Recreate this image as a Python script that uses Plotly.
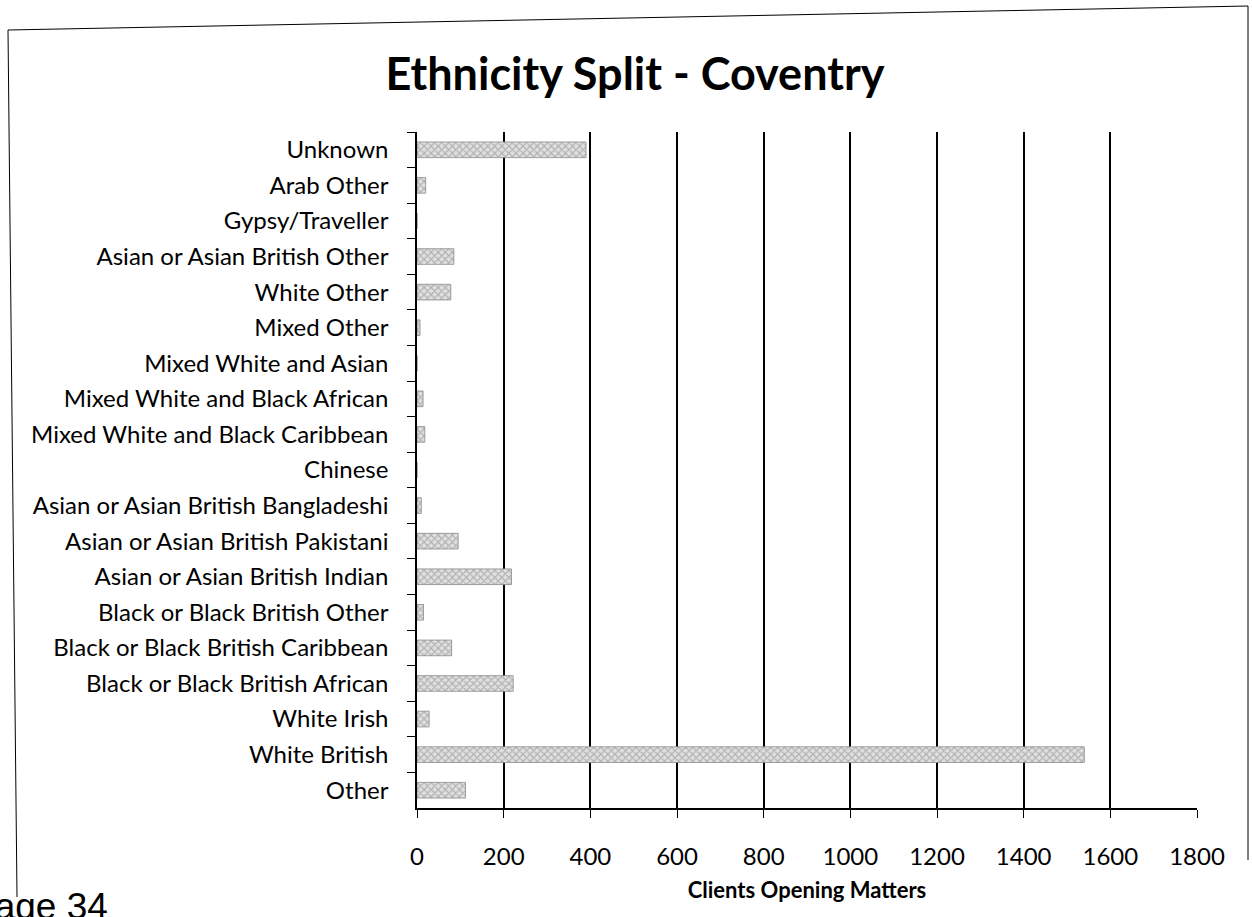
import plotly.graph_objects as go

# Categories listed top to bottom as in the chart
categories = [
    "Unknown", "Arab Other", "Gypsy/Traveller", "Asian or Asian British Other",
    "White Other", "Mixed Other", "Mixed White and Asian",
    "Mixed White and Black African", "Mixed White and Black Caribbean", "Chinese",
    "Asian or Asian British Bangladeshi", "Asian or Asian British Pakistani",
    "Asian or Asian British Indian", "Black or Black British Other",
    "Black or Black British Caribbean", "Black or Black British African",
    "White Irish", "White British", "Other",
]
clients = [390, 20, 0, 85, 78, 7, 0, 14, 18, 0, 10, 95, 218, 15, 80, 222, 28, 1540, 112]
x_ticks = [0, 200, 400, 600, 800, 1000, 1200, 1400, 1600, 1800]

W, H = 1252, 917
ML, MR, MT, MB = 417, 55, 132, 109
PW, PH = W - ML - MR, H - MT - MB

def px(x):
    return (x - ML) / PW

def py(y):
    return 1 - (y - MT) / PH

fig = go.Figure(go.Bar(
    x=clients, y=categories, orientation="h",
    marker=dict(color="#cfcfcf",
                pattern=dict(shape="x", size=5, solidity=0.4, fgcolor="#7f7f7f", bgcolor="#e0e0e0"),
                line=dict(color="#8a8a8a", width=0.8)),
    width=0.44,
))

font = "Lato, 'Open Sans', sans-serif"
fig.update_layout(
    width=W, height=H,
    margin=dict(l=ML, r=MR, t=MT, b=MB),
    paper_bgcolor="white", plot_bgcolor="white",
    showlegend=False,
    title=dict(text="<b>Ethnicity Split - Coventry</b>", x=635 / W, xref="container",
               xanchor="center", y=1 - 74 / H, yanchor="middle",
               font=dict(family=font, size=45, color="black")),
    xaxis=dict(range=[0, 1800], tickvals=x_ticks, ticktext=[str(v) for v in x_ticks],
               showgrid=True, gridcolor="black", gridwidth=1.5,
               showline=True, linecolor="black", linewidth=1.5,
               ticks="outside", ticklen=8, tickcolor="black",
               ticklabelstandoff=18,
               tickfont=dict(family=font, size=24, color="black"),
               zeroline=False,
               title=dict(text="<b>Clients Opening Matters</b>", standoff=14,
                          font=dict(family=font, size=22, color="black"))),
    yaxis=dict(autorange="reversed", showgrid=False,
               showline=True, linecolor="black", linewidth=1.5,
               ticks="outside", ticklen=8, tickcolor="black", tickson="boundaries",
               ticklabelstandoff=22,
               tickfont=dict(family=font, size=24, color="black")),
)

# scanned page border lines (decoration)
fig.add_shape(type="line", xref="paper", yref="paper",
              x0=px(8), y0=py(30), x1=px(1248), y1=py(6),
              line=dict(color="black", width=1))
fig.add_shape(type="line", xref="paper", yref="paper",
              x0=px(8), y0=py(30), x1=px(17), y1=py(897),
              line=dict(color="black", width=1))
fig.add_shape(type="line", xref="paper", yref="paper",
              x0=px(1248), y0=py(6), x1=px(1248), y1=py(860),
              line=dict(color="black", width=1))

fig.add_annotation(text="Page 34", xref="paper", yref="paper",
                   x=px(110), y=py(884), xanchor="right", yanchor="top",
                   showarrow=False,
                   font=dict(family="Liberation Sans, Arial, sans-serif", size=37, color="black"))

fig.write_html("out.html")
